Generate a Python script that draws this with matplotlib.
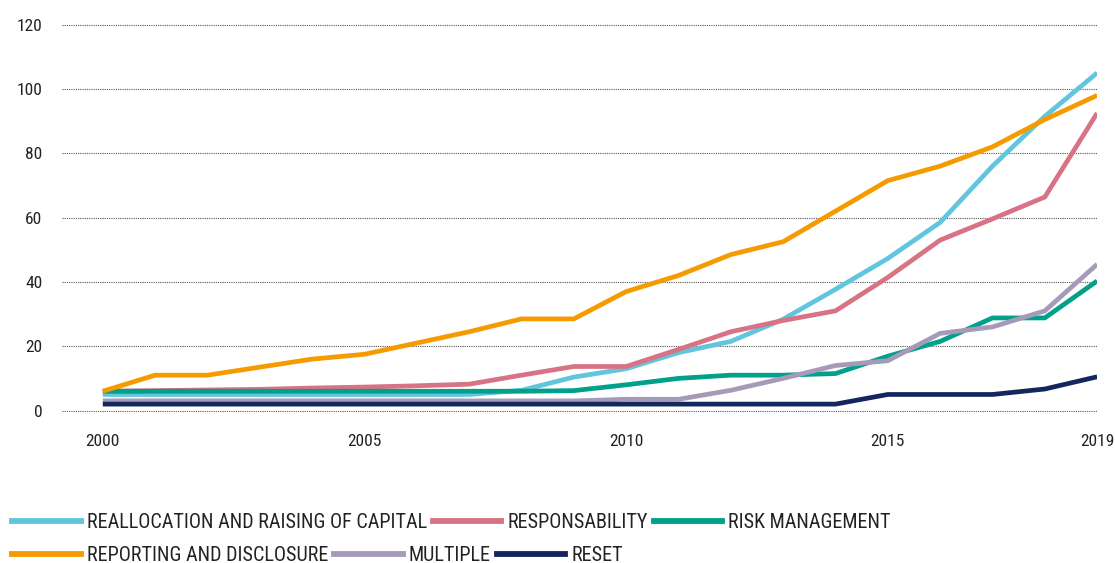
import numpy as np
import matplotlib
matplotlib.use("Agg")
import matplotlib.pyplot as plt
from matplotlib.lines import Line2D
from matplotlib import font_manager

# pick a narrow face if one is installed
names = {f.name for f in font_manager.fontManager.ttflist}
narrow = [n for n in ['Liberation Sans Narrow', 'DejaVu Sans Condensed', 'Roboto Condensed']
          if n in names]
plt.rcParams['font.family'] = narrow + ['DejaVu Sans']
if not narrow:
    plt.rcParams['font.stretch'] = 'condensed'

years = list(range(2000, 2020))

realloc = [5, 5, 5, 5, 5, 5, 5, 5, 6.3, 10.4, 13, 18, 21.5, 28.4, 37.7, 47.3, 58.5, 76, 91.5, 105]
respons = [6, 6.2, 6.4, 6.6, 7, 7.3, 7.7, 8.2, 11, 13.7, 13.7, 19, 24.5, 28, 31, 41.4, 53, 59.6, 66.4, 92.5]
risk = [6, 6, 6, 6, 6, 6, 6, 6, 6, 6.2, 8, 10, 11, 11, 11.5, 16.9, 21.5, 28.8, 28.8, 40.3]
reporting = [6, 11, 11, 13.5, 16, 17.5, 21, 24.5, 28.5, 28.5, 37, 42, 48.5, 52.5, 62, 71.5, 76, 82, 90.5, 98]
multiple = [3, 3, 3, 3, 3, 3, 3, 3, 3, 3, 3.5, 3.5, 6.3, 10, 14, 15.5, 24, 26, 31, 45.5]
reset = [2, 2, 2, 2, 2, 2, 2, 2, 2, 2, 2, 2, 2, 2, 2, 5, 5, 5, 6.7, 10.5]

series = [
    ("REALLOCATION AND RAISING OF CAPITAL", realloc, "#62c5de"),
    ("RESPONSABILITY", respons, "#d77385"),
    ("RISK MANAGEMENT", risk, "#00a08a"),
    ("REPORTING AND DISCLOSURE", reporting, "#f59b00"),
    ("MULTIPLE", multiple, "#a69ab9"),
    ("RESET", reset, "#14265e"),
]

xticks = [2000, 2005, 2010, 2015, 2019]
yticks = [0, 20, 40, 60, 80, 100, 120]

fig = plt.figure(figsize=(11.15, 5.63), dpi=100)
ax = fig.add_axes([0.0556, 0.2685, 0.9284, 0.690])

for name, vals, col in series:
    ax.plot(years, vals, color=col, lw=3.4, solid_capstyle='butt',
            solid_joinstyle='miter', label=name)

ax.set_xlim(1999.22, 2019)
ax.set_ylim(-0.4, 120.4)
ax.set_yticks(yticks)
ax.set_xticks(xticks)
ax.grid(axis='y', color='#555555', lw=0.8, linestyle=(0, (1, 1)))
ax.set_axisbelow(True)
for s in ax.spines.values():
    s.set_visible(False)
ax.tick_params(axis='both', length=0, labelsize=12.5, labelcolor='#222222')
ax.tick_params(axis='y', pad=14)
ax.tick_params(axis='x', pad=16)

handles = [Line2D([], [], color=c, lw=4.2) for _, _, c in series]
labels = [n for n, _, _ in series]

kw = dict(frameon=False, ncol=3, fontsize=14.5, handlelength=3.4,
          handletextpad=0.3, columnspacing=0.3, borderpad=0,
          borderaxespad=0, loc='center left', labelcolor='#222222')
leg1 = fig.legend(handles[:3], labels[:3], bbox_to_anchor=(0.011, 0.072), **kw)
leg2 = fig.legend(handles[3:], labels[3:], bbox_to_anchor=(0.011, 0.013), **kw)

fig.savefig("out.png", dpi=100)
